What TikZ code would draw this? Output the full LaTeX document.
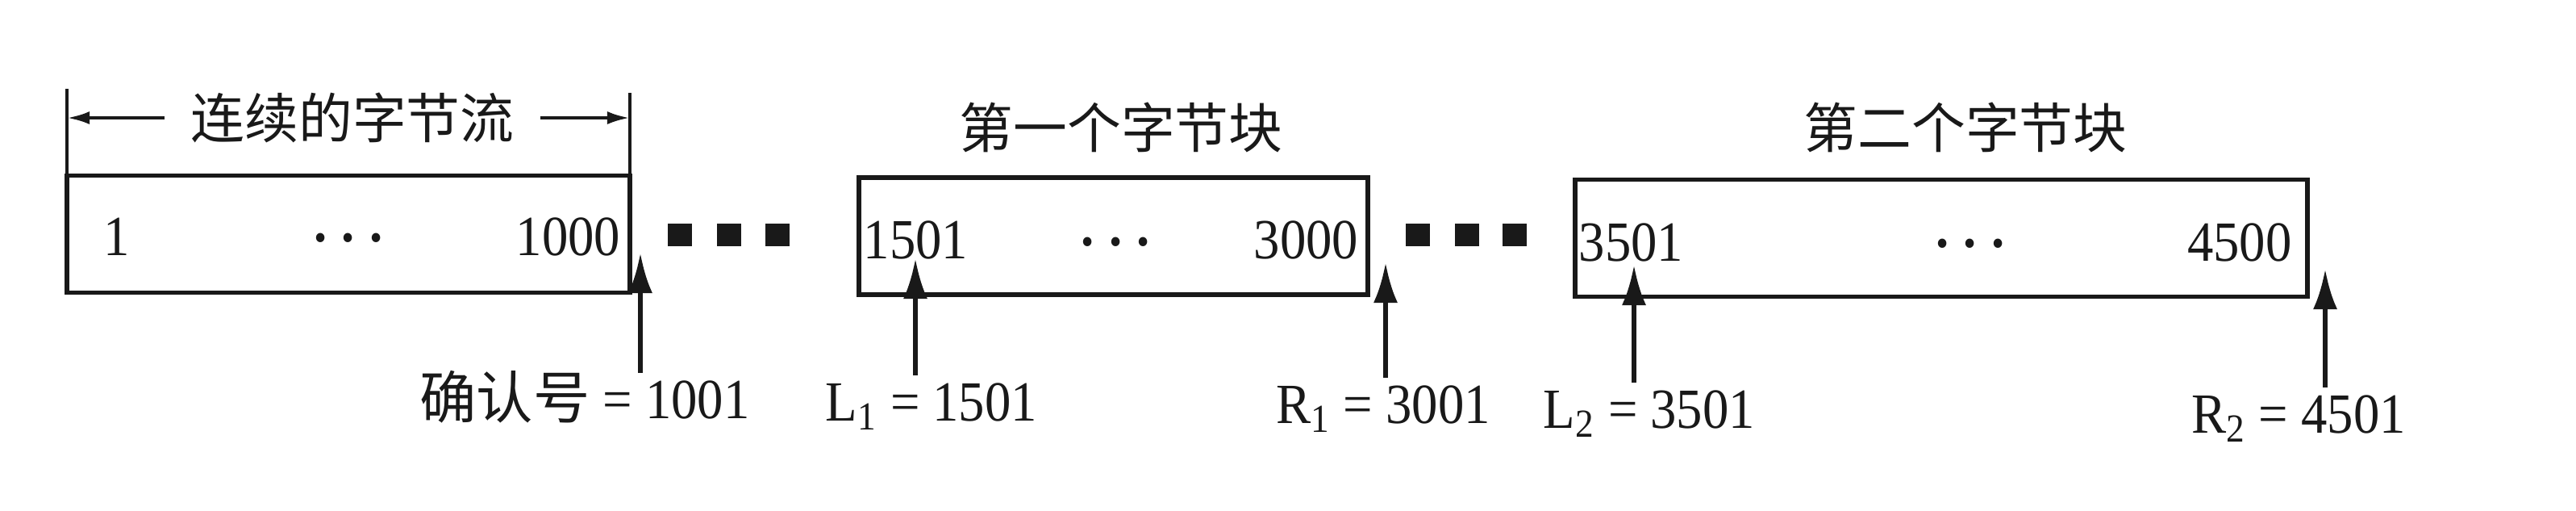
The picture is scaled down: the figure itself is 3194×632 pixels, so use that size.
\documentclass[tikz,border=0pt]{standalone}
\usepackage{fontspec}
\setmainfont{Liberation Serif}[FakeStretch=0.92]
\newfontfamily\cjk{Noto Sans CJK SC}
\usetikzlibrary{arrows.meta}
\definecolor{ink}{gray}{0.1}
\tikzset{
  blk/.style={draw=ink, line width=1.6pt, minimum height=1.45cm, inner sep=0pt},
  num/.style={inner sep=0pt, text=ink, font=\fontsize{20}{22}\selectfont},
  lab/.style={inner sep=0pt, anchor=north, text=ink, text height=13.5pt, text depth=3pt, font=\fontsize{20}{22}\selectfont},
  ttl/.style={inner sep=0pt, text=ink, font=\cjk\fontsize{19}{21}\selectfont},
  ptr/.style={draw=ink, line width=1.8pt, -{Latex[length=0.5cm,width=0.3cm]}, shorten <=0.08cm},
  dimarr/.style={draw=ink, line width=1.2pt, -{Latex[length=0.28cm,width=0.16cm]}},
}
\begin{document}
\begin{tikzpicture}[x=0.01cm, y=-0.01cm]
    \useasboundingbox (0,0) rectangle (3194,632);

    % the three blocks
    \node[blk, minimum width=6.98cm] (box1) at (432,290) {};
    \node[blk, minimum width=6.31cm] (box2) at (1380.5,292.5) {};
    \node[blk, minimum width=9.08cm] (box3) at (2407,295) {};

    \node[num, anchor=west] (n1l) at ([shift={(48,3)}]box1.west) {1};
    \node[num, anchor=east] (n1r) at ([shift={(-14,3)}]box1.east) {1000};
    \node[num] (n1d) at ([shift={(0,5)}]box1.center) {\textbf{.\hspace{0.26em}.\hspace{0.26em}.}};
    \node[num, anchor=west] (n2l) at ([shift={(8,5)}]box2.west) {1501};
    \node[num, anchor=east] (n2r) at ([shift={(-14,5)}]box2.east) {3000};
    \node[num] (n2d) at ([shift={(3,7)}]box2.center) {\textbf{.\hspace{0.26em}.\hspace{0.26em}.}};
    \node[num, anchor=west] (n3l) at ([shift={(7,5)}]box3.west) {3501};
    \node[num, anchor=east] (n3r) at ([shift={(-22,5)}]box3.east) {4500};
    \node[num] (n3d) at ([shift={(36,7)}]box3.center) {\textbf{.\hspace{0.26em}.\hspace{0.26em}.}};

    % gaps
    \foreach \x in {843,904,964,1758,1819,1878}
        \fill[ink] (\x-15,277) rectangle (\x+15,305);

    % titles
    \node[ttl, inner xsep=9pt] (stream) at (437,146) {连续的字节流};
    \node[ttl] (blk1) at (1390,158) {第一个字节块};
    \node[ttl] (blk2) at (2437,158) {第二个字节块};

    \coordinate (lt) at (83,110);
    \coordinate (rt) at (781,115);
    \draw[ink, line width=1.2pt] (lt) -- (lt |- box1.north);
    \draw[ink, line width=1.2pt] (rt) -- (rt |- box1.north);
    \draw[dimarr] (stream.west) -- (stream.west -| lt);
    \draw[dimarr] (stream.east) -- (stream.east -| rt);

    % pointers
    \coordinate (t0) at (794,313);
    \coordinate (tl1) at (1135,320);
    \coordinate (tr1) at (1718,325);
    \coordinate (tl2) at (2026,328);
    \coordinate (tr2) at (2883,333);

    \node[lab] (ack) at (725,470) {{\cjk 确认号} = 1001};
    \node[lab] (l1) at (1155,473) {L\textsubscript{1} = 1501};
    \node[lab] (r1) at (1715,476) {R\textsubscript{1} = 3001};
    \node[lab] (l2) at (2045,482) {L\textsubscript{2} = 3501};
    \node[lab] (r2) at (2850,488) {R\textsubscript{2} = 4501};

    \draw[ptr] (ack.north -| t0) -- (t0);
    \draw[ptr] (l1.north -| tl1) -- (tl1);
    \draw[ptr] (r1.north -| tr1) -- (tr1);
    \draw[ptr] (l2.north -| tl2) -- (tl2);
    \draw[ptr] (r2.north -| tr2) -- (tr2);
\end{tikzpicture}
\end{document}
